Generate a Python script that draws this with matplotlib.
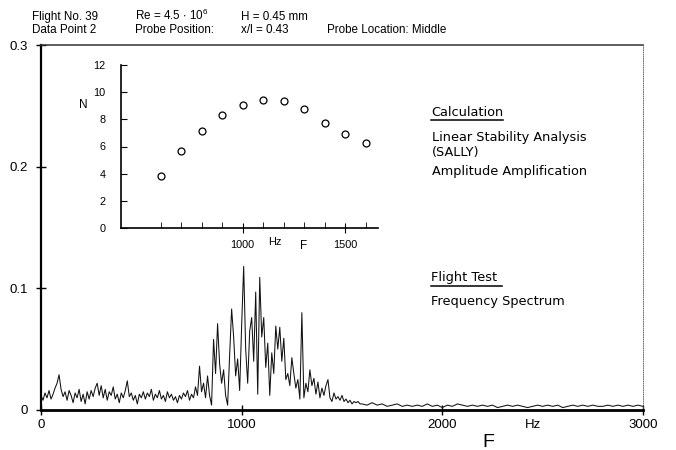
import numpy as np
import matplotlib
matplotlib.use('Agg')
from matplotlib import pyplot as plt
from matplotlib.lines import Line2D

plt.rcParams['font.family'] = ['Liberation Sans', 'DejaVu Sans']
plt.rcParams['mathtext.fontset'] = 'custom'
plt.rcParams['mathtext.rm'] = 'Liberation Sans'
plt.rcParams['mathtext.default'] = 'regular'

#flight test spectrum (10 Hz steps up to 1600 Hz)
SPEC_F_LOW = np.arange(0, 1600, 10)
SPEC_A_LOW = [
	0.012, 0.008, 0.014, 0.010, 0.016, 0.009, 0.013, 0.018, 0.022, 0.029,
	0.017, 0.011, 0.015, 0.008, 0.016, 0.012, 0.006, 0.014, 0.010, 0.017,
	0.007, 0.013, 0.005, 0.015, 0.009, 0.016, 0.011, 0.018, 0.022, 0.012,
	0.020, 0.010, 0.017, 0.008, 0.015, 0.012, 0.019, 0.009, 0.013, 0.006,
	0.014, 0.010, 0.016, 0.024, 0.011, 0.014, 0.008, 0.012, 0.005, 0.013,
	0.010, 0.015, 0.009, 0.014, 0.011, 0.017, 0.008, 0.013, 0.010, 0.016,
	0.009, 0.012, 0.007, 0.015, 0.010, 0.013, 0.008, 0.011, 0.006, 0.012,
	0.009, 0.014, 0.011, 0.016, 0.008, 0.013, 0.010, 0.019, 0.012, 0.036,
	0.015, 0.022, 0.010, 0.028, 0.012, 0.004, 0.058, 0.030, 0.071, 0.038,
	0.022, 0.033, 0.012, 0.004, 0.045, 0.083, 0.060, 0.028, 0.042, 0.016,
	0.070, 0.118, 0.050, 0.022, 0.065, 0.076, 0.040, 0.097, 0.013, 0.109,
	0.060, 0.076, 0.035, 0.055, 0.012, 0.047, 0.030, 0.069, 0.050, 0.068,
	0.040, 0.059, 0.025, 0.030, 0.020, 0.043, 0.030, 0.018, 0.025, 0.009,
	0.080, 0.010, 0.022, 0.015, 0.033, 0.020, 0.026, 0.013, 0.023, 0.010,
	0.018, 0.012, 0.020, 0.025, 0.010, 0.007, 0.014, 0.009, 0.011, 0.008,
	0.012, 0.007, 0.009, 0.006, 0.008, 0.005, 0.007, 0.006, 0.007, 0.005,
]
#tail, 25 Hz steps
SPEC_F_HIGH = np.arange(1600, 3001, 25)
SPEC_A_HIGH = [
	0.005, 0.004, 0.006, 0.004, 0.005, 0.003, 0.004, 0.005, 0.003, 0.004,
	0.003, 0.004, 0.003, 0.005, 0.003, 0.004, 0.002, 0.004, 0.003, 0.005,
	0.004, 0.003, 0.004, 0.003, 0.004, 0.003, 0.004, 0.002, 0.003, 0.004,
	0.003, 0.004, 0.003, 0.002, 0.003, 0.004, 0.003, 0.004, 0.003, 0.004,
	0.002, 0.003, 0.004, 0.003, 0.004, 0.003, 0.004, 0.003, 0.003, 0.004,
	0.003, 0.004, 0.003, 0.004, 0.003, 0.004, 0.003,
]

#linear stability calculation (SALLY), amplitude amplification N
CALC_F = [600, 700, 800, 900, 1000, 1100, 1200, 1300, 1400, 1500, 1600]
CALC_N = [3.8, 5.7, 7.15, 8.3, 9.05, 9.45, 9.35, 8.75, 7.75, 6.95, 6.25]

W, H = 676, 450


def fx(px):
	return px / W


def fy(py):
	return 1 - py / H


def main():
	fig = plt.figure(figsize=(6.76, 4.5), dpi=100)

	ax = fig.add_axes([fx(41), fy(410), fx(643) - fx(41), fy(45) - fy(410)])
	ax.plot(np.concatenate([SPEC_F_LOW, SPEC_F_HIGH]), SPEC_A_LOW + SPEC_A_HIGH,
		color='#111111', lw=0.75)
	ax.set_xlim(0, 3000)
	ax.set_ylim(0, 0.3)
	ax.set_xticks([0, 1000, 2000, 3000])
	ax.set_xticklabels(['0', '1000', '2000', '3000'])
	ax.set_yticks([0, 0.1, 0.2, 0.3])
	ax.set_yticklabels(['0', '0.1', '0.2', '0.3'])
	ax.tick_params(direction='inout', length=7, width=1, labelsize=9.5, pad=3)
	ax.tick_params(axis='y', pad=6)
	ax.spines['left'].set_linewidth(1.6)
	ax.spines['bottom'].set_linewidth(2)
	ax.spines['top'].set_linewidth(1.1)
	ax.spines['top'].set_color('#333333')
	ax.spines['right'].set_linewidth(0.6)
	ax.spines['right'].set_linestyle(':')
	ax.spines['right'].set_color('#555555')
	ax.text(2450, -0.0125, 'Hz', ha='center', va='center', fontsize=9.5)
	ax.text(2230, -0.027, 'F', ha='center', va='center', fontsize=14)

	#inset with calculation
	ins = fig.add_axes([fx(121), fy(228), fx(378) - fx(121), fy(65) - fy(228)])
	ins.plot(CALC_F, CALC_N, 'o', mfc='white', mec='black', ms=5, mew=0.9)
	ins.set_xlim(407, 1660)
	ins.set_ylim(0, 12)
	ins.set_yticks(range(0, 13, 2))
	ins.set_xticks([1000, 1500])
	ins.set_xticks(range(600, 1700, 100), minor=True)
	ins.spines['top'].set_visible(False)
	ins.spines['right'].set_visible(False)
	ins.spines['left'].set_linewidth(1.2)
	ins.spines['bottom'].set_linewidth(1.2)
	ins.tick_params(axis='y', direction='in', length=4, labelsize=7.8, pad=11)
	ins.tick_params(axis='x', which='major', direction='inout', length=7, labelsize=7.8, pad=5)
	ins.tick_params(axis='x', which='minor', direction='in', length=4)
	ins.text(1155, -1.05, 'Hz', ha='center', va='center', fontsize=7.8)
	ins.text(1295, -1.3, 'F', ha='center', va='center', fontsize=8.5)
	ins.text(fx(83), fy(105), 'N', transform=fig.transFigure, ha='center', va='center', fontsize=8.5)

	#header
	hdr = dict(fontsize=8.4, va='baseline', ha='left')
	fig.text(fx(32), fy(20), 'Flight No. 39', **hdr)
	fig.text(fx(32), fy(33), 'Data Point 2', **hdr)
	fig.text(fx(135), fy(20), r'Re = 4.5 $\cdot$ 10$^{6}$', **hdr)
	fig.text(fx(135), fy(33), 'Probe Position:', **hdr)
	fig.text(fx(241), fy(20), 'H = 0.45 mm', **hdr)
	fig.text(fx(241), fy(33), 'x/l = 0.43', **hdr)
	fig.text(fx(327), fy(33), 'Probe Location: Middle', **hdr)

	#legend texts
	leg = dict(fontsize=9.3, va='baseline', ha='left', family='DejaVu Sans')
	fig.text(fx(431), fy(116), 'Calculation', **leg)
	fig.text(fx(432), fy(141), 'Linear Stability Analysis', **leg)
	fig.text(fx(432), fy(156), '(SALLY)', **leg)
	fig.text(fx(432), fy(175), 'Amplitude Amplification', **leg)
	fig.text(fx(431), fy(281), 'Flight Test', **leg)
	fig.text(fx(431), fy(305), 'Frequency Spectrum', **leg)
	fig.add_artist(Line2D([fx(431), fx(503)], [fy(120), fy(120)], color='black', lw=1.1))
	fig.add_artist(Line2D([fx(431), fx(502)], [fy(286), fy(286)], color='black', lw=1.1))

	fig.savefig('out.png', dpi=100)


if __name__ == '__main__':
	main()
